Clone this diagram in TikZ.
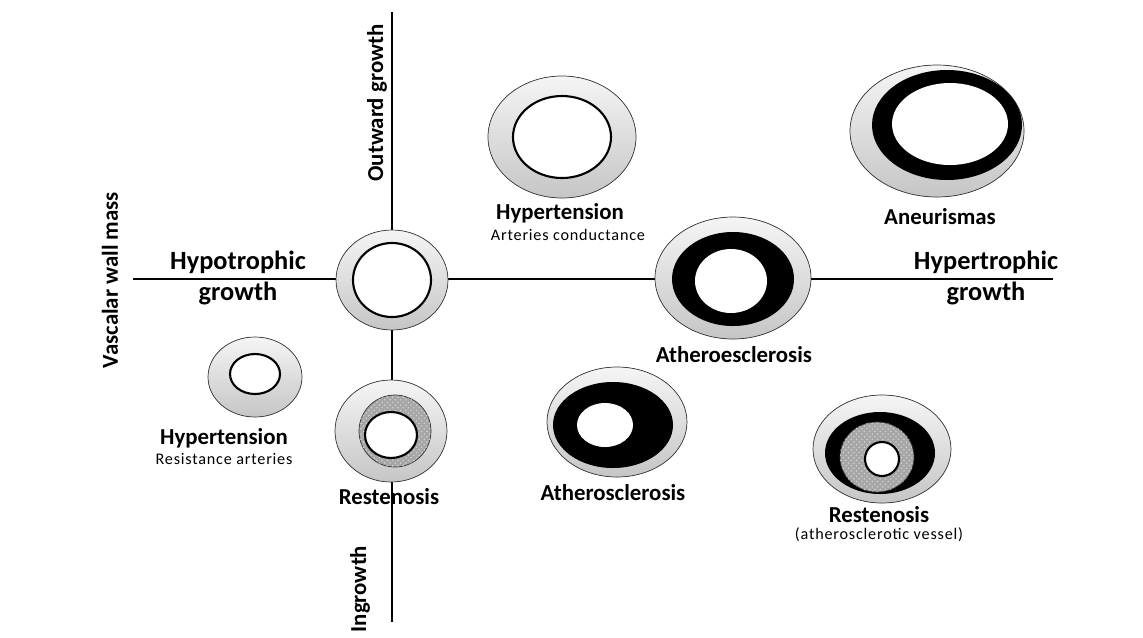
\documentclass[tikz,border=0pt]{standalone}
\usepackage{fontspec}
\setmainfont{Carlito}
\usetikzlibrary{patterns}

\begin{document}
\begin{tikzpicture}[x=0.02cm,y=-0.02cm,
  wall/.style={draw=gray!45!black, top color=gray!8, middle color=gray!22, bottom color=gray!45},
  lumen/.style={draw=black, line width=1.2pt, fill=white},
  plaque/.style={fill=black},
  neo/.style={draw=gray!40!black, fill=gray!70, postaction={pattern=crosshatch dots, pattern color=gray!35}},
  title/.style={font=\bfseries\fontsize{13}{15}\selectfont, inner sep=1pt},
  axislabel/.style={font=\bfseries\fontsize{15}{16.5}\selectfont, inner sep=1pt, align=center},
  sub/.style={font=\fontsize{9.2}{11}\selectfont\addfontfeatures{LetterSpace=5}, inner sep=1pt}]
\useasboundingbox (0,0) rectangle (1143,637);

% axes
\coordinate (west) at (133,279);
\coordinate (east) at (1053,279);
\coordinate (top) at (392,12);
\coordinate (bottom) at (392,622);
\draw[line width=1.6pt] (west) -- (east);
\draw[line width=1.6pt] (top) -- (bottom);

\node[title, rotate=90] (outward) at (377,103) {Outward growth};
\node[title, rotate=90] (ingrowth) at (360,589) {Ingrowth};
\node[title, rotate=90] (mass) at (110,280) {Vascalar wall mass};
\node[axislabel] (hypo) at (238,278) {Hypotrophic\\[1pt]growth};
\node[axislabel] (hyper) at (986,278) {Hypertrophic\\[1pt]growth};

% normal vessel
\filldraw[wall] (392,280) ellipse [x radius=56, y radius=50];
\filldraw[lumen] (392,280) ellipse [x radius=39, y radius=37];

% hypertension, conductance arteries
\filldraw[wall] (562,137) ellipse [x radius=74, y radius=61];
\filldraw[lumen] (562,137) ellipse [x radius=49, y radius=41];
\node[title] (htc) at (560,213) {Hypertension};
\node[sub] (htcs) at (568,235) {Arteries conductance};

% aneurismas
\filldraw[wall] (937,131) ellipse [x radius=87, y radius=66];
\fill[plaque] (947,125) ellipse [x radius=75, y radius=55];
\fill[white] (950,124) ellipse [x radius=58, y radius=41];
\node[title] (aneu) at (940,217) {Aneurismas};

% atheroesclerosis on the axis
\filldraw[wall] (733,278) ellipse [x radius=78, y radius=61];
\fill[plaque] (733,279) ellipse [x radius=61, y radius=47];
\fill[white] (731,281) ellipse [x radius=36, y radius=32];
\node[title] (athe) at (734,355) {Atheroesclerosis};

% hypertension, resistance arteries
\filldraw[wall] (255,377) ellipse [x radius=47, y radius=40];
\filldraw[lumen] (255,374) ellipse [x radius=25, y radius=20];
\node[title] (htr) at (224,438) {Hypertension};
\node[sub] (htrs) at (224,459) {Resistance arteries};

% restenosis
\filldraw[wall] (391,431) ellipse [x radius=56, y radius=51];
\filldraw[neo] (395,431) ellipse [x radius=36, y radius=36];
\filldraw[lumen] (391,435) ellipse [x radius=26, y radius=23];
\node[title] (rest) at (389,497) {Restenosis};

% atherosclerosis
\filldraw[wall] (617,422) ellipse [x radius=70, y radius=55];
\fill[plaque] (613,425) ellipse [x radius=60, y radius=43];
\fill[white] (605,425) ellipse [x radius=28, y radius=22];
\node[title] (athr) at (613,493) {Atherosclerosis};

% restenosis in atherosclerotic vessel
\filldraw[wall] (882,449) ellipse [x radius=69, y radius=54];
\fill[plaque] (880,453) ellipse [x radius=55, y radius=41];
\filldraw[neo] (877,457) ellipse [x radius=37, y radius=35];
\filldraw[lumen] (882,459) ellipse [x radius=17, y radius=17];
\node[title] (resa) at (879,515) {Restenosis};
\node[sub] (resas) at (879,535) {(atherosclerotic vessel)};
\end{tikzpicture}
\end{document}
